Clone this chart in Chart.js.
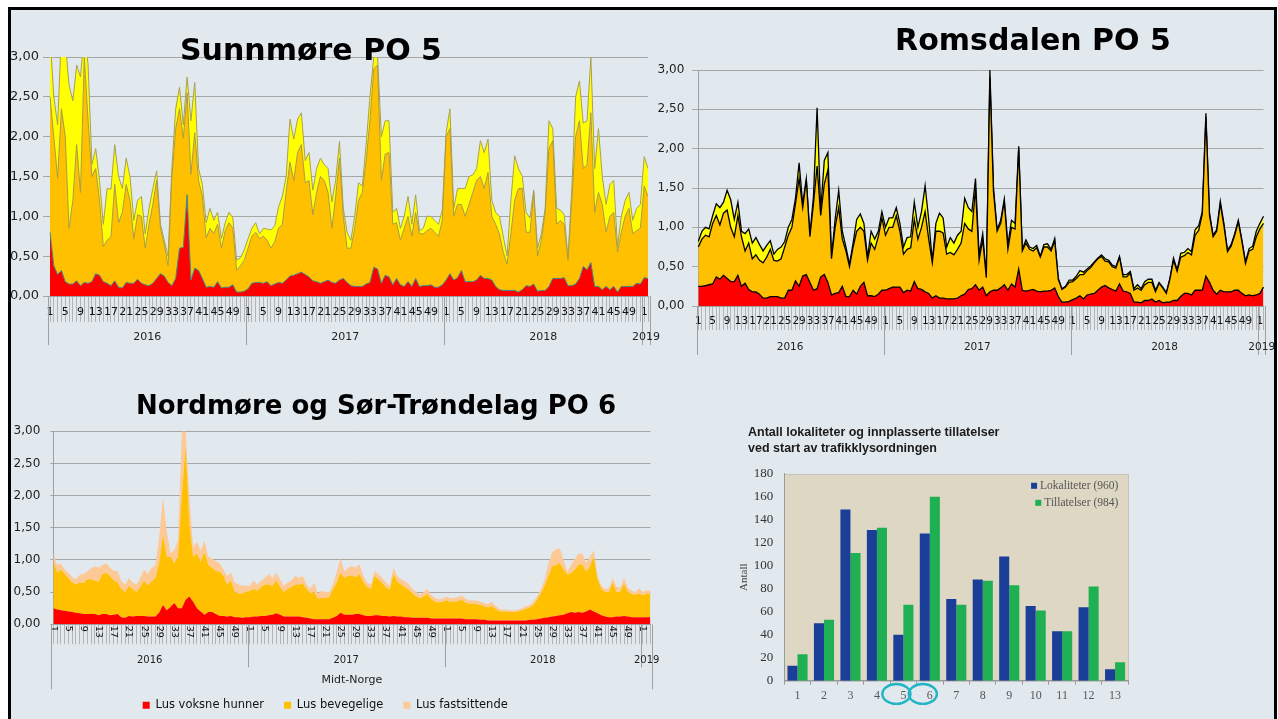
<!DOCTYPE html>
<html lang="no">
<head>
<meta charset="UTF-8">
<title>Lus per uke - PO 5 og PO 6</title>
<script src="https://cdn.jsdelivr.net/npm/chart.js"></script>
<style>
    html, body { margin: 0; padding: 0; overflow: hidden; background: #fff; width: 1278px; height: 719px; }
    #bg { position: absolute; left: 8px; top: 7px; width: 1269px; height: 730px; background: #e2e9ee; }
    #frame { position: absolute; left: 8px; top: 7px; width: 1269px; height: 730px; border: 3px solid #000;
             box-sizing: border-box; pointer-events: none; z-index: 10; }
    canvas { position: absolute; }
    .title { position: absolute; font-family: "DejaVu Sans", sans-serif; font-weight: bold; color: #000;
             white-space: nowrap; text-align: center; z-index: 5; }
    .bartitle { position: absolute; left: 748px; top: 424px; font-family: "Liberation Sans", Arial, sans-serif;
                font-weight: bold; font-size: 12.5px; line-height: 16px; color: #1a1a1a; white-space: nowrap; }
</style>
</head>
<body>
<div id="bg"></div>

<canvas id="sunnmore" width="662" height="315" style="left:0px;top:40px"></canvas>
<canvas id="romsdalen" width="628" height="330" style="left:650px;top:40px"></canvas>
<canvas id="nordmore" width="680" height="307" style="left:0px;top:414px"></canvas>
<canvas id="trafikklys" width="420" height="250" style="left:725px;top:455px"></canvas>

<div class="title" style="left:111px;top:32px;width:400px;font-size:30px;line-height:36px">Sunnmøre PO 5</div>
<div class="title" style="left:833px;top:22px;width:400px;font-size:30px;line-height:36px">Romsdalen PO 5</div>
<div class="title" style="left:126px;top:390px;width:500px;font-size:26px;line-height:30px">Nordmøre og Sør-Trøndelag PO 6</div>
<div class="bartitle">Antall lokaliteter og innplasserte tillatelser<br>ved start av trafikklysordningen</div>

<div id="frame"></div>

<script>
// x axis: week numbers, grouped by year
const weekNumbers = [1,2,3,4,5,6,7,8,9,10,11,12,13,14,15,16,17,18,19,20,21,22,23,24,25,26,
                     27,28,29,30,31,32,33,34,35,36,37,38,39,40,41,42,43,44,45,46,47,48,49,50,51,52];
const yearNames = ['2016', '2017', '2018', '2019'];

// Each area chart: top edge of every band (red, red+bevegelige, total)
const sunVoksne = [
    0.80,0.38,0.27,0.32,0.18,0.15,0.15,0.19,0.13,0.17, 0.16,0.18,0.28,0.26,0.18,0.16,0.13,0.19,0.11,0.10,
    0.17,0.16,0.16,0.21,0.16,0.14,0.13,0.16,0.22,0.28, 0.25,0.17,0.13,0.22,0.60,0.61,1.27,0.20,0.35,0.32,
    0.22,0.11,0.12,0.11,0.18,0.10,0.11,0.11,0.14,0.05, 0.05,0.06,0.09,0.16,0.17,0.17,0.16,0.18,0.13,0.15,
    0.17,0.16,0.20,0.25,0.26,0.28,0.30,0.27,0.24,0.19, 0.18,0.16,0.18,0.20,0.17,0.16,0.20,0.22,0.17,0.13,
    0.12,0.12,0.12,0.15,0.17,0.36,0.34,0.16,0.26,0.24, 0.14,0.22,0.14,0.12,0.18,0.12,0.22,0.12,0.13,0.13,
    0.14,0.11,0.11,0.14,0.20,0.28,0.20,0.23,0.32,0.18, 0.18,0.18,0.20,0.26,0.22,0.22,0.20,0.12,0.08,0.07,
    0.07,0.07,0.07,0.05,0.08,0.13,0.12,0.15,0.06,0.07, 0.07,0.12,0.22,0.22,0.22,0.23,0.13,0.13,0.15,0.22,
    0.37,0.33,0.42,0.12,0.12,0.08,0.12,0.08,0.12,0.05, 0.12,0.12,0.12,0.12,0.16,0.15,0.23,0.22];
const sunBevegelige = [
    2.50,2.00,1.48,2.35,2.00,0.85,1.20,1.90,1.30,3.00, 2.20,1.50,1.60,1.20,0.62,0.70,0.74,1.40,0.92,1.05,
    1.40,1.20,0.72,1.02,1.00,0.60,0.90,1.15,1.45,0.85, 0.65,0.38,1.50,2.10,2.35,1.98,2.55,1.53,2.05,1.45,
    1.25,0.73,0.85,0.78,0.90,0.60,0.82,0.92,0.85,0.32, 0.38,0.45,0.60,0.75,0.80,0.72,0.75,0.70,0.60,0.68,
    0.85,0.90,1.30,1.68,1.45,1.80,1.90,1.42,1.45,1.02, 1.30,1.50,1.45,1.30,0.85,1.25,1.73,1.00,0.60,0.60,
    0.85,1.20,1.30,1.70,2.20,2.85,2.90,1.45,1.78,1.80, 0.90,0.92,0.70,0.85,1.00,0.75,1.05,0.78,0.78,0.82,
    0.85,0.80,0.75,0.95,2.00,2.10,1.00,1.15,1.15,1.00, 1.15,1.30,1.45,1.50,1.35,1.55,1.00,0.90,0.78,0.55,
    0.40,0.78,1.20,1.35,1.35,0.80,0.80,1.30,0.50,0.70, 1.05,1.85,1.95,0.90,0.95,0.90,0.45,1.20,2.00,2.20,
    1.60,1.65,2.30,1.05,1.30,1.15,0.80,1.00,1.05,0.55, 0.80,1.00,1.10,0.78,0.82,0.85,1.38,1.25];
const sunTotal = [
    3.30,2.50,2.15,3.30,3.20,2.65,2.45,2.90,2.75,3.30, 2.90,1.65,1.85,1.45,0.90,1.35,1.34,1.90,1.50,1.35,
    1.73,1.50,0.95,1.20,1.25,0.78,1.10,1.35,1.57,0.90, 0.70,0.50,1.60,2.35,2.62,2.15,2.75,2.20,2.68,1.60,
    1.40,0.92,1.10,0.95,1.05,0.72,0.92,1.05,0.98,0.45, 0.48,0.58,0.72,0.85,0.92,0.78,0.85,0.84,0.83,0.88,
    1.12,1.25,1.50,2.22,1.97,2.22,2.30,1.70,1.80,1.33, 1.60,1.73,1.65,1.60,1.18,1.45,1.94,1.10,0.80,0.70,
    1.00,1.42,1.38,1.90,2.50,3.00,3.00,2.00,2.20,2.20, 1.05,1.10,0.85,1.00,1.25,0.90,1.27,0.82,0.85,1.00,
    1.00,0.95,0.90,1.08,2.05,2.35,1.10,1.35,1.35,1.35, 1.50,1.52,1.60,1.95,1.80,1.97,1.20,1.05,1.00,0.75,
    0.50,1.20,1.76,1.60,1.50,1.05,0.98,1.33,0.60,0.78, 1.10,2.20,2.10,1.10,1.08,1.02,0.47,1.35,2.50,2.70,
    2.17,2.20,3.00,1.60,2.10,1.50,1.15,1.40,1.45,0.62, 1.00,1.20,1.30,0.95,1.10,1.15,1.75,1.60];

const romVoksne = [
    0.25,0.25,0.26,0.27,0.28,0.37,0.34,0.39,0.35,0.31, 0.31,0.39,0.25,0.29,0.21,0.18,0.18,0.15,0.10,0.10,
    0.12,0.12,0.12,0.10,0.10,0.20,0.20,0.32,0.25,0.38, 0.40,0.30,0.20,0.22,0.37,0.40,0.30,0.14,0.16,0.17,
    0.25,0.12,0.12,0.20,0.15,0.25,0.30,0.13,0.13,0.12, 0.15,0.20,0.20,0.22,0.24,0.24,0.24,0.17,0.20,0.19,
    0.31,0.22,0.21,0.18,0.16,0.10,0.13,0.10,0.10,0.09, 0.09,0.09,0.10,0.13,0.15,0.21,0.22,0.27,0.20,0.24,
    0.13,0.18,0.20,0.20,0.23,0.27,0.20,0.28,0.24,0.47, 0.20,0.19,0.20,0.21,0.19,0.18,0.19,0.19,0.20,0.23,
    0.12,0.05,0.05,0.06,0.08,0.10,0.13,0.09,0.14,0.15, 0.16,0.20,0.24,0.26,0.23,0.21,0.19,0.28,0.19,0.18,
    0.16,0.05,0.05,0.04,0.07,0.07,0.09,0.05,0.07,0.04, 0.05,0.05,0.07,0.07,0.12,0.16,0.16,0.14,0.20,0.20,
    0.20,0.38,0.30,0.20,0.15,0.20,0.18,0.18,0.18,0.20, 0.20,0.16,0.13,0.14,0.13,0.14,0.16,0.24];
const romBevegelige = [
    0.75,0.85,0.90,0.88,1.05,1.15,1.03,1.18,1.22,1.00, 0.88,1.15,0.88,0.70,0.80,0.60,0.65,0.58,0.55,0.62,
    0.72,0.58,0.57,0.60,0.75,0.90,1.00,1.30,1.62,1.25, 1.60,0.88,1.30,1.78,1.15,1.55,1.73,0.60,1.00,1.25,
    0.85,0.70,0.50,0.75,0.95,1.00,0.95,0.58,0.80,0.72, 0.88,1.12,0.90,1.00,1.00,1.15,0.95,0.66,0.72,0.74,
    1.10,0.85,1.00,1.20,0.85,0.55,0.95,0.95,0.93,0.66, 0.68,0.65,0.72,0.80,1.05,0.98,0.95,1.50,0.58,0.85,
    0.36,2.90,1.45,0.95,1.05,1.33,0.72,1.00,0.98,2.00, 0.70,0.80,0.72,0.70,0.74,0.62,0.75,0.75,0.70,0.83,
    0.34,0.21,0.24,0.30,0.31,0.35,0.40,0.40,0.45,0.49, 0.55,0.60,0.63,0.57,0.56,0.50,0.48,0.62,0.37,0.37,
    0.42,0.20,0.23,0.20,0.27,0.30,0.30,0.18,0.29,0.23, 0.16,0.34,0.58,0.44,0.62,0.64,0.68,0.65,0.90,0.96,
    1.17,2.40,1.15,0.88,0.95,1.30,1.02,0.69,0.76,0.90, 1.07,0.82,0.54,0.70,0.72,0.88,0.98,1.05];
const romTotal = [
    0.82,0.95,1.00,0.98,1.15,1.30,1.25,1.32,1.47,1.35, 1.10,1.32,0.95,0.92,0.98,0.80,0.87,0.78,0.70,0.77,
    0.83,0.66,0.72,0.75,0.82,1.00,1.10,1.37,1.82,1.30, 1.62,0.90,1.40,2.52,1.22,1.85,1.95,0.62,1.10,1.47,
    0.95,0.75,0.53,0.80,1.10,1.17,1.05,0.62,0.95,0.85, 0.95,1.20,1.00,1.12,1.12,1.25,1.05,0.75,0.87,0.88,
    1.32,1.00,1.20,1.53,1.10,0.57,1.05,1.18,1.12,0.75, 0.87,0.80,0.90,0.95,1.37,1.25,1.20,1.62,0.65,0.92,
    0.38,3.00,1.50,0.97,1.09,1.36,0.78,1.09,1.05,2.03, 0.72,0.84,0.75,0.73,0.77,0.63,0.78,0.79,0.72,0.86,
    0.35,0.22,0.25,0.33,0.33,0.38,0.45,0.43,0.47,0.51, 0.56,0.61,0.65,0.60,0.58,0.52,0.50,0.63,0.40,0.40,
    0.44,0.22,0.27,0.22,0.31,0.34,0.34,0.20,0.30,0.24, 0.17,0.35,0.61,0.46,0.67,0.68,0.73,0.69,0.97,1.02,
    1.20,2.45,1.18,0.90,0.97,1.33,1.05,0.71,0.78,0.92, 1.09,0.84,0.56,0.73,0.76,0.95,1.05,1.14];

const nordVoksne = [
    0.25,0.23,0.22,0.21,0.20,0.19,0.18,0.17,0.16,0.16, 0.16,0.16,0.14,0.16,0.16,0.14,0.15,0.16,0.11,0.10,
    0.13,0.12,0.13,0.13,0.13,0.12,0.12,0.12,0.18,0.30, 0.22,0.27,0.33,0.25,0.25,0.38,0.43,0.35,0.25,0.20,
    0.15,0.19,0.19,0.16,0.13,0.13,0.12,0.13,0.11,0.11, 0.10,0.11,0.11,0.12,0.12,0.13,0.13,0.14,0.15,0.17,
    0.15,0.12,0.12,0.12,0.12,0.12,0.11,0.10,0.09,0.08, 0.08,0.08,0.08,0.08,0.10,0.13,0.18,0.15,0.15,0.15,
    0.16,0.16,0.14,0.13,0.13,0.14,0.14,0.13,0.13,0.12, 0.13,0.12,0.12,0.11,0.11,0.10,0.10,0.10,0.10,0.10,
    0.09,0.09,0.09,0.09,0.09,0.09,0.09,0.09,0.09,0.08, 0.08,0.08,0.08,0.07,0.07,0.06,0.06,0.06,0.06,0.06,
    0.06,0.06,0.06,0.06,0.06,0.06,0.07,0.07,0.08,0.09, 0.10,0.11,0.12,0.13,0.14,0.15,0.17,0.19,0.18,0.19,
    0.18,0.20,0.23,0.20,0.17,0.14,0.12,0.11,0.11,0.12, 0.12,0.13,0.12,0.11,0.11,0.11,0.11,0.11,0.11];
const nordBevegelige = [
    0.98,0.80,0.85,0.78,0.72,0.65,0.62,0.65,0.64,0.70, 0.70,0.68,0.66,0.78,0.80,0.75,0.68,0.65,0.55,0.50,
    0.60,0.55,0.50,0.58,0.68,0.60,0.67,0.72,0.95,1.38, 1.05,1.05,0.95,1.05,2.00,2.77,1.55,1.05,1.10,0.97,
    1.12,0.92,0.88,0.83,0.82,0.75,0.62,0.68,0.50,0.48, 0.48,0.50,0.52,0.55,0.52,0.58,0.62,0.62,0.60,0.68,
    0.58,0.50,0.55,0.58,0.62,0.62,0.63,0.55,0.48,0.50, 0.40,0.41,0.41,0.42,0.55,0.65,0.80,0.72,0.75,0.76,
    0.73,0.78,0.66,0.58,0.55,0.75,0.70,0.64,0.57,0.54, 0.78,0.66,0.62,0.58,0.54,0.48,0.43,0.40,0.43,0.47,
    0.39,0.35,0.34,0.35,0.37,0.35,0.35,0.36,0.38,0.34, 0.32,0.32,0.31,0.30,0.28,0.26,0.28,0.24,0.20,0.20,
    0.20,0.19,0.19,0.20,0.22,0.24,0.26,0.30,0.38,0.48, 0.60,0.75,0.90,0.92,0.95,0.85,0.77,0.80,0.85,0.93,
    0.93,0.82,0.90,1.05,0.70,0.55,0.50,0.50,0.65,0.50, 0.50,0.63,0.50,0.47,0.46,0.48,0.45,0.48,0.47];
const nordTotal = [
    1.10,0.92,0.95,0.85,0.80,0.73,0.70,0.77,0.78,0.82, 0.87,0.90,0.88,0.92,0.95,0.88,0.83,0.83,0.67,0.62,
    0.72,0.65,0.62,0.72,0.85,0.78,0.88,0.92,1.35,1.98, 1.45,1.10,1.15,1.30,3.00,3.00,2.00,1.20,1.28,1.15,
    1.30,1.05,1.02,0.98,0.95,0.85,0.75,0.80,0.65,0.62, 0.60,0.60,0.60,0.68,0.62,0.68,0.72,0.78,0.72,0.80,
    0.70,0.60,0.65,0.68,0.75,0.72,0.75,0.62,0.55,0.65, 0.48,0.52,0.50,0.50,0.62,0.82,1.03,0.82,0.88,0.90,
    0.88,0.93,0.76,0.65,0.62,0.83,0.78,0.72,0.65,0.60, 0.88,0.75,0.70,0.67,0.63,0.55,0.50,0.46,0.50,0.55,
    0.45,0.41,0.39,0.40,0.43,0.41,0.41,0.42,0.45,0.40, 0.37,0.37,0.37,0.35,0.33,0.31,0.35,0.29,0.24,0.23,
    0.23,0.22,0.22,0.23,0.25,0.28,0.30,0.35,0.43,0.55, 0.70,0.95,1.12,1.17,1.18,1.00,0.82,0.92,1.02,1.10,
    1.10,0.95,1.05,1.15,0.75,0.60,0.55,0.56,0.72,0.58, 0.57,0.72,0.57,0.52,0.50,0.56,0.50,0.53,0.52];

// Bar chart: number per production area
const zoneLabels = ['1','2','3','4','5','6','7','8','9','10','11','12','13'];
const lokaliteter = [13, 50, 149, 131, 40, 128, 71, 88, 108, 65, 43, 64, 10];
const tillatelser = [23, 53, 111, 133, 66, 160, 66, 87, 83, 61, 43, 82, 16];
const circledZones = ['5', '6'];

function weekAxis(count) {
    const weeks = [], years = [];
    for (let i = 0; i < count; i++) {
        weeks.push(String(weekNumbers[i % weekNumbers.length]));
        years.push(yearNames[Math.floor(i / weekNumbers.length)]);
    }
    return { weeks, years };
}

const everyFourth = w => Number(w) % 4 === 1;

// year row under the week labels, with separators between the years
const yearAxis = {
    id: 'yearAxis',
    afterDraw(chart, args, o) {
        if (!o.years) return;
        const { ctx, chartArea: a, scales: { x } } = chart;
        ctx.save();
        // week labels turned a quarter clockwise (top-to-bottom reading)
        if (o.downWeeks) {
            ctx.font = o.downWeeks.font; ctx.fillStyle = '#111';
            ctx.textAlign = 'left'; ctx.textBaseline = 'middle';
            chart.data.labels.forEach((w, i) => {
                if (!everyFourth(w)) return;
                ctx.save();
                ctx.translate(x.getPixelForValue(i), a.bottom + o.downWeeks.offset);
                ctx.rotate(Math.PI / 2);
                ctx.fillText(w, 0, 0);
                ctx.restore();
            });
        }
        const groups = [];
        o.years.forEach((y, i) => {
            const g = groups[groups.length - 1];
            if (!g || g.year !== y) groups.push({ year: y, start: i, end: i });
            else g.end = i;
        });
        const line = (px, len) => {
            const xx = Math.round(px) + 0.5;
            ctx.beginPath(); ctx.moveTo(xx, a.bottom); ctx.lineTo(xx, a.bottom + len); ctx.stroke();
        };
        ctx.strokeStyle = o.lineColor; ctx.lineWidth = 1;
        ctx.fillStyle = o.color; ctx.font = o.font;
        ctx.textAlign = 'center'; ctx.textBaseline = 'middle';
        groups.forEach((g, k) => {
            const x0 = x.getPixelForValue(g.start - 0.5);
            const x1 = x.getPixelForValue(g.end + 0.5);
            line(x0, k === 0 ? o.outerLen : o.innerLen);
            if (k === groups.length - 1) line(x1, o.outerLen);
            ctx.fillText(g.year, (x0 + x1) / 2, a.bottom + o.labelOffset);
        });
        ctx.restore();
    }
};

const plotBackground = {
    id: 'plotBackground',
    beforeDraw(chart, args, o) {
        if (!o.color) return;
        const { ctx, chartArea: a } = chart;
        ctx.save();
        ctx.fillStyle = o.color;
        ctx.fillRect(a.left, a.top, a.width, a.height);
        ctx.strokeStyle = o.edge; ctx.lineWidth = 1;
        ctx.strokeRect(Math.round(a.left) + 0.5, Math.round(a.top) + 0.5, Math.round(a.width), Math.round(a.height));
        ctx.restore();
    }
};

const insideLegend = {
    id: 'insideLegend',
    afterDraw(chart, args, o) {
        if (!o.font) return;
        const { ctx, chartArea: a } = chart;
        ctx.save();
        ctx.font = o.font; ctx.textBaseline = 'middle';
        chart.data.datasets.forEach((ds, k) => {
            const total = ds.data.reduce((s, v) => s + v, 0);
            const text = ds.label + ' (' + total + ')';
            const w = ctx.measureText(text).width;
            const y = a.top + o.top + k * o.gap;
            const tx = a.right - o.right - w;
            ctx.fillStyle = ds.backgroundColor;
            ctx.fillRect(tx - o.box - 3, y - o.box / 2, o.box, o.box);
            ctx.fillStyle = o.color;
            ctx.fillText(text, tx, y);
        });
        ctx.restore();
    }
};

const zoneRings = {
    id: 'zoneRings',
    afterDraw(chart, args, o) {
        if (!o.zones) return;
        const { ctx, chartArea: a, scales: { x } } = chart;
        ctx.save();
        ctx.strokeStyle = o.color; ctx.lineWidth = o.width;
        o.zones.forEach(z => {
            const cx = x.getPixelForValue(chart.data.labels.indexOf(z)) + o.dx;
            ctx.beginPath();
            ctx.ellipse(cx, a.bottom + o.dy, o.rx, o.ry, 0, 0, Math.PI * 2);
            ctx.stroke();
        });
        ctx.restore();
    }
};

const fmt = v => v.toFixed(2).replace('.', ',');

function liceChart(id, bands, look) {
    const axis = weekAxis(bands[0].data.length);
    return new Chart(document.getElementById(id), {
        type: 'line',
        data: {
            labels: axis.weeks,
            datasets: bands.map((b, k) => ({
                label: b.label,
                data: b.data,
                fill: k === 0 ? 'origin' : '-1',
                backgroundColor: b.color,
                borderColor: look.lineColors[k],
                borderWidth: look.lineWidth,
                pointRadius: 0,
                tension: 0
            }))
        },
        options: {
            responsive: false,
            animation: false,
            layout: { padding: look.padding },
            plugins: {
                legend: look.legend || { display: false },
                tooltip: { enabled: false },
                yearAxis: Object.assign({ years: axis.years, color: '#222', lineColor: '#a0a0a0' }, look.yearRow)
            },
            scales: {
                x: {
                    grid: { drawOnChartArea: false, tickLength: look.xTick, color: '#b4b4b4' },
                    border: { display: true, color: '#a0a0a0' },
                    ticks: {
                        display: !look.yearRow.downWeeks,
                        autoSkip: false,
                        minRotation: 0, maxRotation: 0,
                        padding: look.xPad,
                        font: { family: 'DejaVu Sans', size: look.xFont },
                        color: '#111',
                        callback(v) {
                            const w = this.getLabelForValue(v);
                            return everyFourth(w) ? w : '';
                        }
                    },
                    title: look.xTitle || { display: false },
                    afterFit(s) { s.height = look.xHeight; }
                },
                y: {
                    min: 0, max: 3,
                    grid: { color: '#a6a6a6', tickLength: look.yTick },
                    border: { display: true, color: '#a0a0a0' },
                    ticks: {
                        stepSize: 0.5, padding: look.yPad, callback: fmt,
                        font: { family: 'DejaVu Sans', size: look.yFont }, color: '#222'
                    },
                    afterFit(s) { s.width = look.yWidth; }
                }
            }
        },
        plugins: [yearAxis]
    });
}

liceChart('sunnmore', [
    { label: 'Lus voksne hunner', data: sunVoksne, color: '#ff0000' },
    { label: 'Lus bevegelige', data: sunBevegelige, color: '#ffc000' },
    { label: 'Lus fastsittende', data: sunTotal, color: '#ffff00' }
], {
    lineColors: ['#3f8a86', '#a89c4a', '#a8a050'], lineWidth: 1,
    padding: { top: 17, right: 14, bottom: 0, left: 0 },
    yWidth: 50, yTick: 7, yPad: 4, yFont: 13,
    xHeight: 59, xTick: 26, xPad: -16, xFont: 11,
    yearRow: { font: '11px "DejaVu Sans"', labelOffset: 41, innerLen: 49, outerLen: 49 }
});

liceChart('romsdalen', [
    { label: 'Lus voksne hunner', data: romVoksne, color: '#ff0000' },
    { label: 'Lus bevegelige', data: romBevegelige, color: '#ffc000' },
    { label: 'Lus fastsittende', data: romTotal, color: '#ffff00' }
], {
    lineColors: ['#000', '#000', '#000'], lineWidth: 1.3,
    padding: { top: 30, right: 14.5, bottom: 0, left: 0 },
    yWidth: 48.3, yTick: 6, yPad: 8, yFont: 12,
    xHeight: 64, xTick: 24, xPad: -15, xFont: 10.5,
    yearRow: { font: '10.5px "DejaVu Sans"', labelOffset: 41.5, innerLen: 49, outerLen: 49 }
});

liceChart('nordmore', [
    { label: 'Lus voksne hunner', data: nordVoksne, color: '#ff0000' },
    { label: 'Lus bevegelige', data: nordBevegelige, color: '#ffc000' },
    { label: 'Lus fastsittende', data: nordTotal, color: '#fdc997' }
], {
    lineColors: ['rgba(0,0,0,0)', 'rgba(0,0,0,0)', 'rgba(0,0,0,0)'], lineWidth: 0,
    padding: { top: 4, right: 29.5, bottom: 0, left: 0 },
    yWidth: 53.3, yTick: 3, yPad: 10, yFont: 12,
    xHeight: 55.2, xTick: 20, xPad: 0, xFont: 9.5,
    xTitle: { display: true, text: 'Midt-Norge', color: '#222',
              font: { family: 'DejaVu Sans', size: 11 }, padding: { top: 0, bottom: -7 } },
    legend: {
        display: true, position: 'bottom',
        labels: { boxWidth: 7, boxHeight: 7, padding: 20, color: '#111',
                  font: { family: 'DejaVu Sans', size: 11.5 } }
    },
    yearRow: { font: '10px "DejaVu Sans"', labelOffset: 36, innerLen: 43, outerLen: 65,
               downWeeks: { font: '9.5px "DejaVu Sans"', offset: 1.5 } }
});

new Chart(document.getElementById('trafikklys'), {
    type: 'bar',
    data: {
        labels: zoneLabels,
        datasets: [
            { label: 'Lokaliteter', data: lokaliteter, backgroundColor: '#1b3e98' },
            { label: 'Tillatelser', data: tillatelser, backgroundColor: '#1eb052' }
        ]
    },
    options: {
        responsive: false,
        animation: false,
        categoryPercentage: 0.76,
        barPercentage: 1.0,
        layout: { padding: { top: 11, right: 16.7, bottom: 0, left: 0 } },
        plugins: {
            legend: { display: false },
            tooltip: { enabled: false },
            plotBackground: { color: '#ddd7c3', edge: '#c4c4c4' },
            insideLegend: { font: '11.5px "Liberation Serif"', color: '#555', top: 12, gap: 17, right: 10, box: 6 },
            zoneRings: { zones: circledZones, color: '#22b4c4', width: 2.5, dx: -7, dy: 13.3, rx: 14, ry: 10 }
        },
        scales: {
            x: {
                grid: { drawOnChartArea: false, tickLength: 4, offset: true, color: '#9a9a9a' },
                border: { color: '#9a9a9a' },
                ticks: { padding: 4, color: '#555', font: { family: 'Liberation Serif', size: 12 } },
                afterFit(s) { s.height = 24.3; }
            },
            y: {
                min: 0, max: 180,
                grid: { display: false, drawTicks: false },
                border: { color: '#9a9a9a' },
                ticks: { stepSize: 20, padding: 11, color: '#333', font: { family: 'Liberation Serif', size: 13 } },
                title: { display: true, text: 'Antall', color: '#444',
                         font: { family: 'Liberation Serif', size: 11 }, padding: { top: 12.4, bottom: 0 } },
                afterFit(s) { s.width = 59.3; }
            }
        }
    },
    plugins: [plotBackground, insideLegend, zoneRings]
});
</script>
</body>
</html>
